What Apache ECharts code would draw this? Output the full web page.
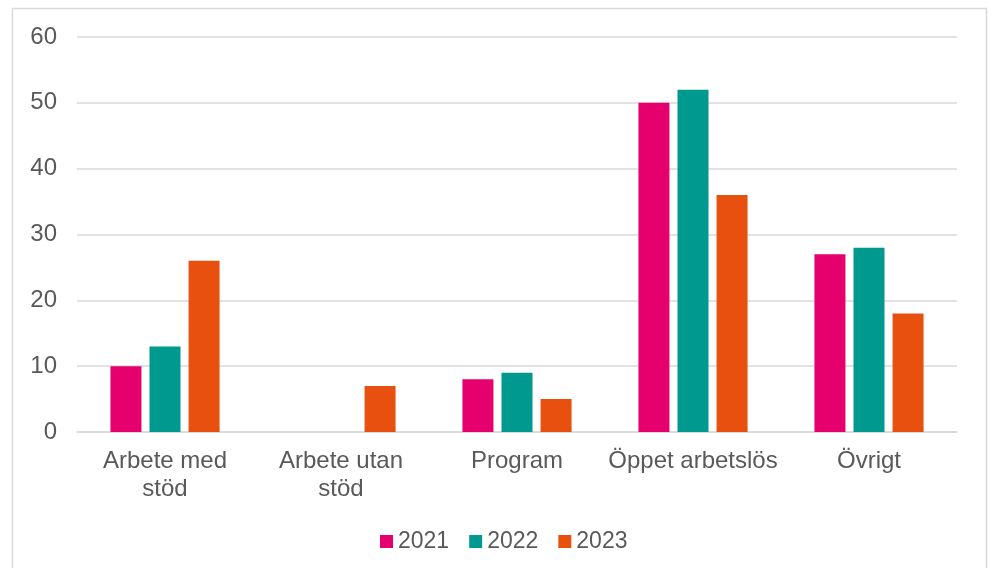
<!DOCTYPE html>
<html>
<head>
<meta charset="utf-8">
<script src="https://cdn.jsdelivr.net/npm/echarts@6/dist/echarts.min.js"></script>
<style>
  html, body { margin: 0; padding: 0; background: #fff; }
  #chart { width: 992px; height: 568px; }
</style>
</head>
<body>
<div id="chart"></div>
<script>
// kategorier och värden
const categories = ['Arbete med\nstöd', 'Arbete utan\nstöd', 'Program', 'Öppet arbetslös', 'Övrigt'];
const years = ['2021', '2022', '2023'];
const values2021 = [10, 0, 8, 50, 27];
const values2022 = [13, 0, 9, 52, 28];
const values2023 = [26, 7, 5, 36, 18];
const colors = ['#E5006D', '#00998F', '#E8500F'];

const myChart = echarts.init(document.getElementById('chart'));
const textColor = '#595959';
const font = 'Liberation Sans, Arial, sans-serif';

const seriesData = [values2021, values2022, values2023];

var option = {
  animation: false,
  textStyle: { fontFamily: font },
  graphic: [
    {
      type: 'rect',
      shape: { x: 12.5, y: 8.5, width: 974, height: 600 },
      style: { fill: 'none', stroke: '#d9d9d9', lineWidth: 1.5 },
      silent: true
    }
  ],
  grid: {
    left: 77,
    right: 35,
    top: 37,
    bottom: 136
  },
  legend: {
    bottom: 10,
    left: 375,
    itemWidth: 13,
    itemHeight: 13,
    itemGap: 20,
    icon: 'rect',
    textStyle: { color: textColor, fontSize: 23, fontFamily: font },
    data: years
  },
  xAxis: {
    type: 'category',
    data: categories,
    axisTick: { show: false },
    axisLine: { lineStyle: { color: '#d9d9d9', width: 1.5 } },
    axisLabel: {
      color: textColor,
      fontSize: 24,
      fontFamily: font,
      margin: 15,
      lineHeight: 28,
      interval: 0
    }
  },
  yAxis: {
    type: 'value',
    min: 0,
    max: 60,
    interval: 10,
    axisLine: { show: false },
    axisTick: { show: false },
    splitLine: { lineStyle: { color: '#d9d9d9', width: 1.5 } },
    axisLabel: { color: textColor, fontSize: 24, fontFamily: font, margin: 20 }
  },
  series: years.map(function (y, i) {
    return {
      name: y,
      type: 'bar',
      data: seriesData[i],
      barWidth: 31,
      barGap: '26%',
      itemStyle: { color: colors[i] }
    };
  })
};

myChart.setOption(option);
</script>
</body>
</html>
